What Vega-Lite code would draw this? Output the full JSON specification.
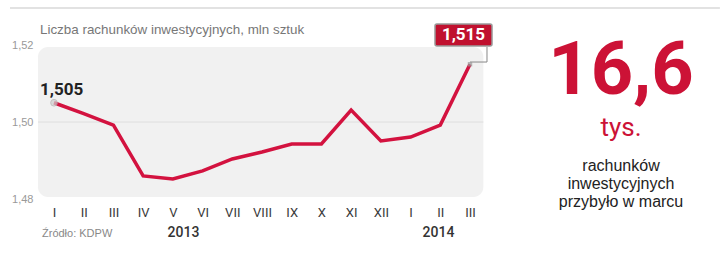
{
  "$schema": "https://vega.github.io/schema/vega-lite/v6.json",
  "width": 720,
  "height": 253,
  "autosize": {"type": "none"},
  "padding": 0,
  "background": "white",
  "view": {"stroke": null},
  "datasets": {
    "accounts": [
      {"i": 1, "m": "I", "v": 1.505},
      {"i": 2, "m": "II", "v": 1.5022},
      {"i": 3, "m": "III", "v": 1.4992},
      {"i": 4, "m": "IV", "v": 1.486},
      {"i": 5, "m": "V", "v": 1.4852},
      {"i": 6, "m": "VI", "v": 1.4873},
      {"i": 7, "m": "VII", "v": 1.4904},
      {"i": 8, "m": "VIII", "v": 1.4922},
      {"i": 9, "m": "IX", "v": 1.4943},
      {"i": 10, "m": "X", "v": 1.4943},
      {"i": 11, "m": "XI", "v": 1.5031},
      {"i": 12, "m": "XII", "v": 1.4951},
      {"i": 13, "m": "I", "v": 1.4961},
      {"i": 14, "m": "II", "v": 1.4992},
      {"i": 15, "m": "III", "v": 1.515}
    ],
    "one": [{"k": 1}]
  },
  "layer": [
    {"data": {"name": "one"}, "mark": {"type": "rule", "color": "#e2e2e2", "strokeWidth": 2},
     "encoding": {"x": {"datum": -0.48, "type": "quantitative"}, "x2": {"datum": 23.41}, "y": {"datum": 1.5296, "type": "quantitative"}}},
    {"data": {"name": "one"}, "mark": {"type": "rect", "color": "#f1f1f1", "cornerRadius": 10},
     "encoding": {"x": {"datum": 0.46, "type": "quantitative"}, "x2": {"datum": 15.45}, "y": {"datum": 1.5195, "type": "quantitative"}, "y2": {"datum": 1.4805}}},
    {"data": {"name": "one"}, "mark": {"type": "rule", "color": "#dedede", "strokeWidth": 1},
     "encoding": {"x": {"datum": 0.46, "type": "quantitative"}, "x2": {"datum": 15.45}, "y": {"datum": 1.5, "type": "quantitative"}}},
    {"data": {"name": "accounts"},
     "mark": {"type": "line", "color": "#d3123f", "strokeWidth": 3.5, "strokeJoin": "miter"},
     "encoding": {
      "x": {"field": "i", "type": "quantitative",
        "scale": {"domain": [1, 15], "range": [54, 470], "nice": false, "zero": false},
        "axis": {"values": [1,2,3,4,5,6,7,8,9,10,11,12,13,14,15],
          "labelExpr": "['I','II','III','IV','V','VI','VII','VIII','IX','X','XI','XII','I','II','III'][datum.value-1]",
          "orient": "bottom", "offset": -53, "tickSize": 0, "ticks": false, "domain": false, "grid": false,
          "labelPadding": 6, "labelFont": "Roboto", "labelFontSize": 13, "labelColor": "#3a3a3a", "title": null, "labelFlush": false}},
      "y": {"field": "v", "type": "quantitative",
        "scale": {"domain": [1.48, 1.52], "range": [199, 45], "nice": false, "zero": false},
        "axis": {"values": [1.48, 1.5, 1.52],
          "labelExpr": "replace(format(datum.value, '.2f'), '.', ',')",
          "orient": "left", "offset": -36, "tickSize": 0, "ticks": false, "domain": false, "grid": false,
          "labelPadding": 3, "labelFont": "Liberation Sans", "labelFontSize": 11, "labelColor": "#999", "title": null, "labelFlush": false}}
     }},
    {"data": {"name": "one"}, "mark": {"type": "rule", "color": "#888", "strokeWidth": 1},
     "encoding": {"x": {"datum": 15, "type": "quantitative"}, "x2": {"datum": 15.572}, "y": {"datum": 1.51558, "type": "quantitative"}}},
    {"data": {"name": "one"}, "mark": {"type": "rule", "color": "#888", "strokeWidth": 1},
     "encoding": {"x": {"datum": 15.572, "type": "quantitative"}, "y": {"datum": 1.51558, "type": "quantitative"}, "y2": {"datum": 1.51948}}},
    {"data": {"name": "accounts"}, "transform": [{"filter": "datum.i == 1"}], "mark": {"type": "point", "shape": "circle", "filled": true, "size": 45, "color": "#cfcfcf", "stroke": "#b0b0b0", "strokeWidth": 1},
     "encoding": {"x": {"field": "i", "type": "quantitative"}, "y": {"field": "v", "type": "quantitative"}}},
    {"data": {"name": "accounts"}, "transform": [{"filter": "datum.i == 15"}], "mark": {"type": "point", "shape": "square", "filled": true, "size": 20, "color": "#999"},
     "encoding": {"x": {"field": "i", "type": "quantitative"}, "y": {"field": "v", "type": "quantitative"}}},
    {"data": {"name": "one"}, "mark": {"type": "rect", "color": "#c0112f", "stroke": "#9a9a9a", "strokeWidth": 1.5, "cornerRadius": 2},
     "encoding": {"x": {"datum": 13.822, "type": "quantitative"}, "x2": {"datum": 15.741}, "y": {"datum": 1.52545, "type": "quantitative"}, "y2": {"datum": 1.51974}}},
    {"data": {"name": "one"}, "mark": {"type": "text", "text": "1,515", "font": "Roboto", "fontWeight": "bold", "fontSize": 17, "color": "white", "align": "center", "baseline": "middle"},
     "encoding": {"x": {"datum": 14.781, "type": "quantitative"}, "y": {"datum": 1.5226, "type": "quantitative"}}},
    {"data": {"name": "one"}, "mark": {"type": "text", "text": "1,505", "font": "Roboto", "fontWeight": "bold", "fontSize": 17, "color": "#222", "align": "left", "baseline": "middle"},
     "encoding": {"x": {"datum": 0.529, "type": "quantitative"}, "y": {"datum": 1.50831, "type": "quantitative"}}},
    {"data": {"name": "one"}, "mark": {"type": "text", "text": "Liczba rachunków inwestycyjnych, mln sztuk", "font": "Liberation Sans", "fontSize": 13.4, "color": "#777", "align": "left", "baseline": "middle"},
     "encoding": {"x": {"datum": 0.529, "type": "quantitative"}, "y": {"datum": 1.5239, "type": "quantitative"}}},
    {"data": {"name": "one"}, "mark": {"type": "text", "text": "Źródło: KDPW", "font": "Liberation Sans", "fontSize": 11, "color": "#888", "align": "left", "baseline": "middle"},
     "encoding": {"x": {"datum": 0.596, "type": "quantitative"}, "y": {"datum": 1.47091, "type": "quantitative"}}},
    {"data": {"name": "one"}, "mark": {"type": "text", "text": "2013", "font": "Roboto", "fontWeight": 500, "fontSize": 14, "color": "#333", "align": "center", "baseline": "middle"},
     "encoding": {"x": {"datum": 5.358, "type": "quantitative"}, "y": {"datum": 1.47117, "type": "quantitative"}}},
    {"data": {"name": "one"}, "mark": {"type": "text", "text": "2014", "font": "Roboto", "fontWeight": 500, "fontSize": 14, "color": "#333", "align": "center", "baseline": "middle"},
     "encoding": {"x": {"datum": 13.94, "type": "quantitative"}, "y": {"datum": 1.47117, "type": "quantitative"}}},
    {"data": {"name": "one"}, "mark": {"type": "text", "text": "16,6", "font": "Roboto", "fontWeight": "bold", "fontSize": 74, "color": "#cc1236", "align": "center", "baseline": "alphabetic"},
     "encoding": {"x": {"datum": 20.082, "type": "quantitative"}, "y": {"datum": 1.50727, "type": "quantitative"}}},
    {"data": {"name": "one"}, "mark": {"type": "text", "text": "tys.", "font": "Roboto", "fontSize": 26, "color": "#cc1236", "align": "center", "baseline": "alphabetic"},
     "encoding": {"x": {"datum": 20.082, "type": "quantitative"}, "y": {"datum": 1.49636, "type": "quantitative"}}},
    {"data": {"name": "one"}, "mark": {"type": "text", "text": "rachunków", "font": "Liberation Sans", "fontSize": 16, "color": "#222", "align": "center", "baseline": "alphabetic"},
     "encoding": {"x": {"datum": 20.082, "type": "quantitative"}, "y": {"datum": 1.48727, "type": "quantitative"}}},
    {"data": {"name": "one"}, "mark": {"type": "text", "text": "inwestycyjnych", "font": "Liberation Sans", "fontSize": 16, "color": "#222", "align": "center", "baseline": "alphabetic"},
     "encoding": {"x": {"datum": 20.082, "type": "quantitative"}, "y": {"datum": 1.4826, "type": "quantitative"}}},
    {"data": {"name": "one"}, "mark": {"type": "text", "text": "przybyło w marcu", "font": "Liberation Sans", "fontSize": 16, "color": "#222", "align": "center", "baseline": "alphabetic"},
     "encoding": {"x": {"datum": 20.082, "type": "quantitative"}, "y": {"datum": 1.47792, "type": "quantitative"}}}
  ]
}
